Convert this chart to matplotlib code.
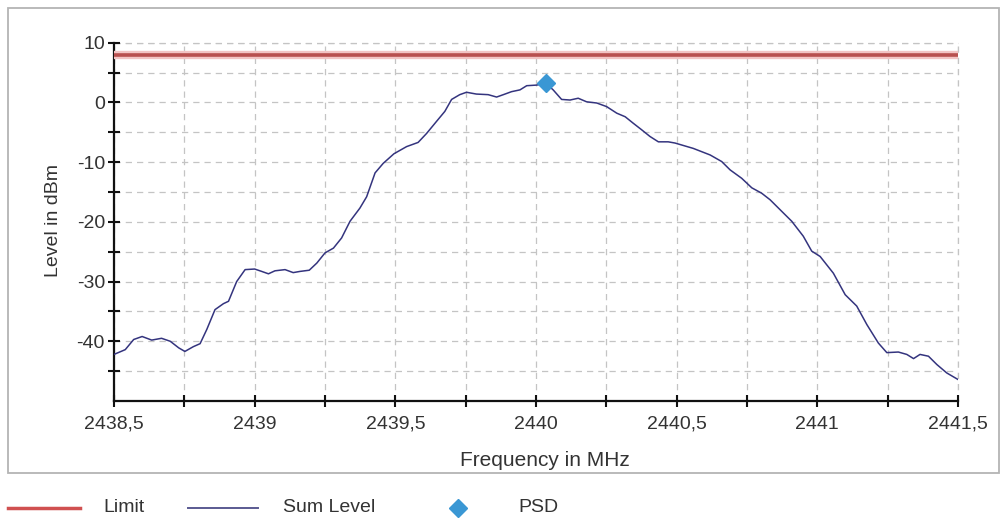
import matplotlib.pyplot as plt
from matplotlib.lines import Line2D
from matplotlib.patches import Rectangle

freq_mhz = [2438.50, 2438.54, 2438.57, 2438.60, 2438.634, 2438.669, 2438.70, 2438.73, 2438.752, 2438.782,
            2438.806, 2438.83, 2438.859, 2438.889, 2438.907, 2438.936, 2438.966, 2439.00, 2439.025, 2439.049,
            2439.072, 2439.108, 2439.137, 2439.161, 2439.194, 2439.221, 2439.25, 2439.28, 2439.309, 2439.339,
            2439.374, 2439.398, 2439.428, 2439.457, 2439.495, 2439.54, 2439.581, 2439.611, 2439.646, 2439.676,
            2439.70, 2439.729, 2439.753, 2439.788, 2439.83, 2439.86, 2439.884, 2439.913, 2439.943, 2439.967,
            2440.002, 2440.035, 2440.061, 2440.091, 2440.121, 2440.15, 2440.18, 2440.216, 2440.251, 2440.287,
            2440.317, 2440.346, 2440.376, 2440.405, 2440.435, 2440.47, 2440.494, 2440.559, 2440.619, 2440.66,
            2440.69, 2440.731, 2440.767, 2440.802, 2440.832, 2440.879, 2440.909, 2440.95, 2440.98, 2441.01,
            2441.057, 2441.099, 2441.14, 2441.176, 2441.217, 2441.247, 2441.288, 2441.318, 2441.342, 2441.365,
            2441.395, 2441.425, 2441.46, 2441.50]
sum_level = [-42.2, -41.4, -39.7, -39.2, -39.8, -39.5, -40.0, -41.1, -41.7, -40.9,
             -40.4, -38.0, -34.7, -33.7, -33.3, -30.0, -28.0, -27.9, -28.3, -28.7,
             -28.2, -28.0, -28.5, -28.3, -28.1, -26.9, -25.2, -24.4, -22.7, -19.9,
             -17.7, -15.8, -11.8, -10.2, -8.6, -7.4, -6.7, -5.2, -3.2, -1.5,
             0.5, 1.3, 1.7, 1.4, 1.3, 0.9, 1.3, 1.8, 2.1, 2.8,
             2.9, 3.2, 2.1, 0.5, 0.4, 0.7, 0.1, -0.1, -0.7, -1.8,
             -2.4, -3.5, -4.6, -5.7, -6.6, -6.6, -6.8, -7.7, -8.8, -9.9,
             -11.3, -12.7, -14.3, -15.2, -16.3, -18.5, -19.9, -22.4, -24.9, -25.8,
             -28.6, -32.2, -34.1, -37.2, -40.3, -41.9, -41.8, -42.2, -42.9, -42.2,
             -42.5, -43.9, -45.3, -46.4]
limit_freq = [2438.5, 2441.5]
limit_level = [8.0, 8.0]
psd_freq = [2440.035]
psd_level = [3.2]

x_ticks = [2438.5, 2439.0, 2439.5, 2440.0, 2440.5, 2441.0, 2441.5]
x_tick_labels = ['2438,5', '2439', '2439,5', '2440', '2440,5', '2441', '2441,5']
x_minor = [2438.75, 2439.25, 2439.75, 2440.25, 2440.75, 2441.25]
y_ticks = [-40, -30, -20, -10, 0, 10]
y_minor = [-45, -35, -25, -15, -5, 5]

plt.rcParams['font.family'] = ['Liberation Sans', 'DejaVu Sans']
plt.rcParams['axes.unicode_minus'] = False

fig = plt.figure(figsize=(10.05, 5.25), dpi=100)
ax = fig.add_axes([114 / 1005, 124 / 525, 844 / 1005, 358.3 / 525])

# Rahmen um das Diagramm
fig.patches.append(Rectangle((8 / 1005, 52 / 525), 991 / 1005, 465 / 525, transform=fig.transFigure,
                             fill=False, edgecolor='#b4b4b4', linewidth=1.3))

ax.plot(limit_freq, limit_level, color='#f2c4c4', linewidth=6, solid_capstyle='butt', zorder=3)
ax.plot(limit_freq, limit_level, color='#b8504f', linewidth=2.6, solid_capstyle='butt', zorder=4)
ax.plot(freq_mhz, sum_level, color='#34347e', linewidth=1.1, zorder=5)
ax.plot(psd_freq, psd_level, marker='D', linestyle='none', markersize=9.5, color='#3a97d4', zorder=6)

ax.set_xlim(2438.5, 2441.5)
ax.set_ylim(-50, 10)
ax.set_xticks(x_ticks)
ax.set_xticklabels(x_tick_labels)
ax.set_xticks(x_minor, minor=True)
ax.set_yticks(y_ticks)
ax.set_yticks(y_minor, minor=True)

ax.grid(which='both', color='#c4c4c4', linestyle=(0, (5, 4)), linewidth=0.9)
ax.set_axisbelow(True)

# Gitter auch am oberen/rechten Rand
ax.axhline(10, color='#c4c4c4', linestyle=(0, (5, 4)), linewidth=0.9, zorder=0, clip_on=False)
ax.axvline(2441.5, color='#c4c4c4', linestyle=(0, (5, 4)), linewidth=0.9, zorder=0, clip_on=False)

for side in ['top', 'right']:
    ax.spines[side].set_visible(False)
for side in ['left', 'bottom']:
    ax.spines[side].set_linewidth(1.6)
    ax.spines[side].set_color('#111111')

ax.tick_params(which='both', direction='inout', length=9, width=1.5, color='#111111')
ax.tick_params(axis='both', labelsize=14, labelcolor='#333333')
ax.tick_params(axis='x', pad=6)
ax.tick_params(axis='y', pad=2)

ax.set_xlabel('Frequency in MHz', fontsize=15, color='#333333')
ax.xaxis.set_label_coords(0.51, -0.14)
ax.set_ylabel('Level in dBm', fontsize=14, color='#333333')
ax.yaxis.set_label_coords(-0.062, 0.505)

# Legende unterhalb
ly = 17 / 525
fig.add_artist(Line2D([8 / 1005, 80 / 1005], [ly, ly], color='#d05050', linewidth=2.5))
fig.text(103 / 1005, ly, 'Limit', fontsize=14, color='#333333', va='center')
fig.add_artist(Line2D([188 / 1005, 258 / 1005], [ly, ly], color='#5a5a92', linewidth=1.4))
fig.text(283 / 1005, ly, 'Sum Level', fontsize=14, color='#333333', va='center')
fig.add_artist(Line2D([458 / 1005], [ly], marker='D', markersize=9, color='#3a97d4', linestyle='none'))
fig.text(518 / 1005, ly, 'PSD', fontsize=14, color='#333333', va='center')

fig.savefig('out.png', dpi=100, facecolor='white')
